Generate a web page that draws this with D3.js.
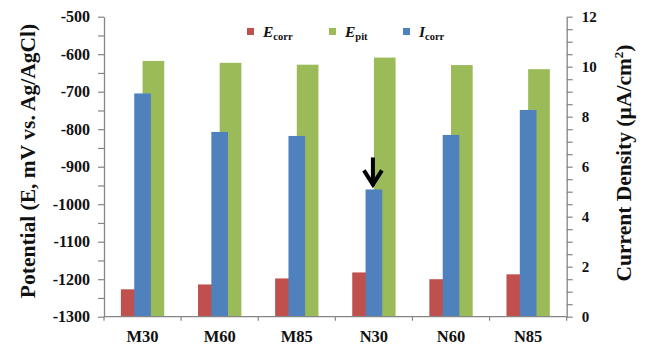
<!DOCTYPE html>
<html>
<head>
<meta charset="utf-8">
<script src="https://cdn.jsdelivr.net/npm/d3@7"></script>
<style>
  body { margin: 0; background: #fff; }
  svg text { font-family: "Liberation Serif", "Times New Roman", serif !important; font-weight: bold; fill: #111; }
</style>
</head>
<body>
<svg id="chart" width="646" height="347"></svg>
<script>
// ---- data ----
const categories = ["M30", "M60", "M85", "N30", "N60", "N85"];
const Ecorr = [-1227, -1214, -1198, -1182, -1200, -1187];   // mV vs Ag/AgCl
const Epit  = [-618, -623, -628, -609, -629, -640];         // mV vs Ag/AgCl
const Icorr = [8.93, 7.39, 7.23, 5.09, 7.27, 8.27];         // µA/cm²
const leftTicks  = [-1300, -1200, -1100, -1000, -900, -800, -700, -600, -500];
const rightTicks = [0, 2, 4, 6, 8, 10, 12];
const arrowCategory = "N30";

const colors = { Ecorr: "#c0504d", Epit: "#9bbb59", Icorr: "#4f81bd" };

const svg = d3.select("#chart");
const m = { left: 104, right: 566.7, top: 16.7, bottom: 316.7 };

const x = d3.scaleBand().domain(categories).range([m.left, m.right]).paddingInner(0).paddingOuter(0);
const yL = d3.scaleLinear().domain([-1300, -500]).range([m.bottom, m.top]);
const yR = d3.scaleLinear().domain([0, 12]).range([m.bottom, m.top]);

const bw = x.bandwidth();
const half = bw * 0.281;      // width of each primary bar
const bwBlue = bw * 0.216;    // width of secondary bar

const g = svg.append("g");
g.selectAll("rect.ecorr").data(categories).enter().append("rect")
  .attr("x", d => x(d) + bw / 2 - half)
  .attr("width", half)
  .attr("y", (d, i) => yL(Ecorr[i]))
  .attr("height", (d, i) => yL(-1300) - yL(Ecorr[i]))
  .attr("fill", colors.Ecorr);
g.selectAll("rect.epit").data(categories).enter().append("rect")
  .attr("x", d => x(d) + bw / 2)
  .attr("width", half)
  .attr("y", (d, i) => yL(Epit[i]))
  .attr("height", (d, i) => yL(-1300) - yL(Epit[i]))
  .attr("fill", colors.Epit);
g.selectAll("rect.icorr").data(categories).enter().append("rect")
  .attr("x", d => x(d) + bw / 2 - bwBlue / 2)
  .attr("width", bwBlue)
  .attr("y", (d, i) => yR(Icorr[i]))
  .attr("height", (d, i) => yR(0) - yR(Icorr[i]))
  .attr("fill", colors.Icorr);

const axisColor = "#858585";
const serif = '"Liberation Serif", "Times New Roman", serif';
function styleAxis(sel) {
  sel.attr("font-family", serif).attr("font-size", null);
  sel.selectAll("path.domain").attr("stroke", axisColor).attr("stroke-width", 1.3);
  sel.selectAll(".tick line").attr("stroke", axisColor).attr("stroke-width", 1.2);
}
const plainFmt = d => String(d);

const leftMinor = d3.range(-1250, -500, 100);
svg.append("g").attr("transform", `translate(${m.left},0)`)
  .call(d3.axisLeft(yL).tickValues(leftMinor).tickSize(6).tickFormat(""))
  .call(styleAxis).call(s => s.select("path.domain").remove());
const axL = svg.append("g").attr("transform", `translate(${m.left},0)`)
  .call(d3.axisLeft(yL).tickValues(leftTicks).tickSize(6).tickSizeOuter(0).tickPadding(8).tickFormat(plainFmt))
  .call(styleAxis);
axL.selectAll("text").attr("font-size", 16).attr("fill", "#111").style("font-family", serif).style("font-weight", "bold");

const rightMinor = d3.range(0.5, 12, 0.5).filter(v => Math.abs(v % 2) > 0.01);
svg.append("g").attr("transform", `translate(${m.right},0)`)
  .call(d3.axisRight(yR).tickValues(rightMinor).tickSize(6).tickFormat(""))
  .call(styleAxis).call(s => s.select("path.domain").remove());
const axR = svg.append("g").attr("transform", `translate(${m.right},0)`)
  .call(d3.axisRight(yR).tickValues(rightTicks).tickSize(6).tickSizeOuter(0).tickPadding(9).tickFormat(plainFmt))
  .call(styleAxis);
axR.selectAll("text").attr("font-size", 15).attr("fill", "#111").style("font-family", serif).style("font-weight", "bold");

const boundaries = categories.map(c => x(c)).concat([m.right]);
const axX = svg.append("g").attr("transform", `translate(0,${m.bottom})`);
axX.append("line").attr("x1", m.left).attr("x2", m.right).attr("stroke", axisColor).attr("stroke-width", 1.3);
axX.selectAll("line.t").data(boundaries).enter().append("line")
  .attr("x1", d => d).attr("x2", d => d).attr("y1", 0).attr("y2", 4)
  .attr("stroke", axisColor).attr("stroke-width", 1.2);
axX.selectAll("text").data(categories).enter().append("text")
  .attr("x", d => x(d) + bw / 2).attr("y", 25)
  .attr("text-anchor", "middle").attr("font-size", 16.5).text(d => d);

svg.append("text")
  .attr("transform", `translate(35,161) rotate(-90)`)
  .attr("text-anchor", "middle").attr("font-size", 21.5)
  .text("Potential (E, mV vs. Ag/AgCl)");
const rt = svg.append("text")
  .attr("transform", `translate(631,163) rotate(-90)`)
  .attr("text-anchor", "middle").attr("font-size", 21.5);
rt.append("tspan").text("Current Density (µA/cm");
rt.append("tspan").attr("dy", -8).attr("font-size", 13).text("2");
rt.append("tspan").attr("dy", 8).text(")");

const legend = [
  { key: "Ecorr", main: "E", sub: "corr", x: 247 },
  { key: "Epit", main: "E", sub: "pit", x: 329 },
  { key: "Icorr", main: "I", sub: "corr", x: 403 }
];
const lg = svg.append("g");
legend.forEach(l => {
  lg.append("rect").attr("x", l.x).attr("y", 28).attr("width", 7).attr("height", 7).attr("fill", colors[l.key]);
  const t = lg.append("text").attr("x", l.x + 16).attr("y", 37).attr("font-size", 15.5);
  t.append("tspan").attr("font-style", "italic").text(l.main);
  t.append("tspan").attr("dy", 3).attr("font-size", 10.5).text(l.sub);
});

const ai = categories.indexOf(arrowCategory);
const ax = x(arrowCategory) + bw / 2 - 1;
const tipY = yR(Icorr[ai]) - 2;
svg.append("line").attr("x1", ax).attr("x2", ax).attr("y1", tipY - 30).attr("y2", tipY - 2)
  .attr("stroke", "#000").attr("stroke-width", 4);
svg.append("path")
  .attr("d", `M${ax - 9},${tipY - 17} L${ax},${tipY - 3} L${ax + 9},${tipY - 17}`)
  .attr("fill", "none").attr("stroke", "#000").attr("stroke-width", 4).attr("stroke-linejoin", "miter");
</script>
</body>
</html>
